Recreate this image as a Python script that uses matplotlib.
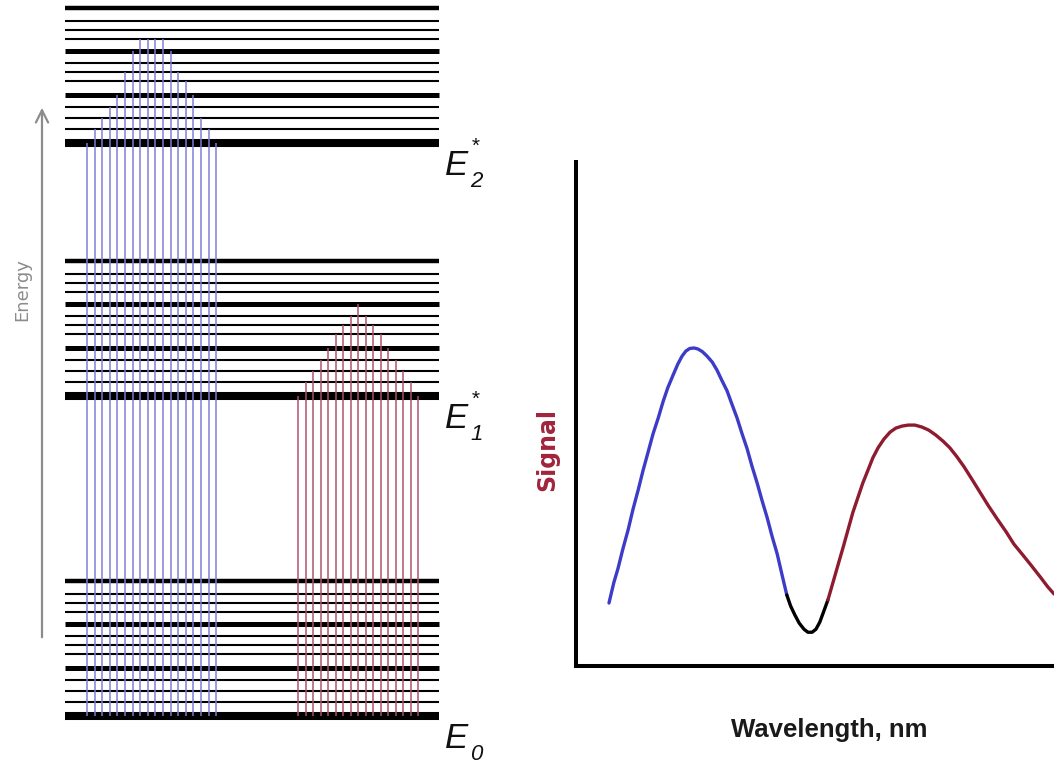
import matplotlib
matplotlib.use("Agg")
import matplotlib.pyplot as plt
from matplotlib import font_manager

# pick a condensed face if there is one
_names = {f.name for f in font_manager.fontManager.ttflist}
narrow = "Liberation Sans Narrow" if "Liberation Sans Narrow" in _names else "Liberation Sans"

# --- energy diagram data (arbitrary energy units) ---
band_subs = ["0", "1", "2"]
band_stars = ["", "*", "*"]
band_energy = [0, 320, 573]
vib_offsets = [0, 14, 25, 36, 48, 62, 71, 80, 92, 104, 113, 122, 135]

# absorption lines: position along diagram and vibrational level reached
blue_x = [87, 95, 102, 110, 117, 125, 133, 140, 148, 155, 163, 171, 178, 186, 193, 201, 209, 216]
blue_level = [0, 1, 2, 3, 4, 6, 8, 9, 9, 9, 9, 8, 6, 5, 4, 2, 1, 0]
red_x = [298, 306, 313, 321, 328, 336, 343, 351, 358, 366, 373, 381, 388, 396, 403, 411, 418]
red_level = [0, 1, 2, 3, 4, 5, 6, 7, 8, 7, 6, 5, 4, 3, 2, 1, 0]

# --- spectrum data (arbitrary units) ---
wl_blue = [6.9, 7.9, 8.8, 9.8, 10.9, 11.9, 13.0, 14.0, 15.1, 16.1, 17.2, 18.2, 19.2,
           20.3, 21.3, 22.2, 23.0, 23.8, 24.7, 25.5, 26.4, 27.4, 28.5, 29.5, 30.5,
           31.6, 32.6, 33.7, 34.7, 35.8, 36.8, 37.9, 38.9, 40.0, 41.0, 42.1, 43.1, 44.1]
sig_blue = [12.5, 16.5, 19.4, 23.2, 27.0, 31.0, 34.9, 38.7, 42.5, 46.0, 49.2, 52.4, 55.2,
            57.7, 59.9, 61.5, 62.5, 63.0, 63.1, 62.9, 62.4, 61.5, 60.3, 58.7, 56.7,
            54.6, 52.0, 49.2, 46.2, 43.1, 39.7, 36.3, 32.9, 29.4, 25.8, 22.2, 18.1, 14.1]
wl_dip = [44.1, 44.9, 45.8, 46.7, 47.7, 48.5, 49.4, 50.2, 51.0, 51.7, 52.7]
sig_dip = [14.1, 11.9, 10.1, 8.5, 7.3, 6.7, 6.7, 7.3, 8.7, 10.5, 13.1]
wl_red = [52.7, 53.8, 54.8, 55.9, 56.9, 57.9, 59.0, 60.0, 61.1, 62.1, 63.2, 64.4,
          65.7, 66.9, 68.2, 69.5, 70.9, 72.4, 73.8, 75.3, 76.8, 78.2, 79.7, 81.2,
          82.8, 84.5, 86.2, 88.1, 90.0, 91.6, 93.5, 95.2, 97.1, 98.7, 100.0]
sig_red = [13.1, 16.7, 20.0, 23.6, 27.0, 30.4, 33.5, 36.3, 38.9, 41.3, 43.3, 45.0,
           46.4, 47.2, 47.6, 47.8, 47.8, 47.4, 46.8, 45.8, 44.6, 43.3, 41.5, 39.5,
           37.1, 34.5, 31.9, 29.2, 26.6, 24.2, 22.0, 20.0, 17.7, 15.7, 14.3]

fig = plt.figure(figsize=(10.54, 7.70), dpi=100)

# left: energy level diagram
ax = fig.add_axes([0, 0, 500 / 1054, 1])
ax.set_xlim(0, 500)
ax.set_ylim(-54, 716)
ax.axis("off")

widths = {0: 5.8, 4: 3.6, 8: 3.6, 12: 3.2}
for base in band_energy:
    for i, off in enumerate(vib_offsets):
        ax.hlines(base + off, 65, 439, color="black", lw=widths.get(i, 1.5), zorder=2)

ax.vlines(blue_x, 0, [band_energy[2] + vib_offsets[l] for l in blue_level],
          color="#7d7dd6", lw=1.2, alpha=0.9, zorder=3)
ax.vlines(red_x, 0, [band_energy[1] + vib_offsets[l] for l in red_level],
          color="#b0506a", lw=1.2, alpha=0.9, zorder=3)

lab_font = dict(family="Liberation Sans", style="italic", color="#111111")
for sub, star, base in zip(band_subs, band_stars, band_energy):
    ax.text(445, base - 32, "E", fontsize=25, ha="left", va="baseline", **lab_font)
    ax.text(470, base - 44, sub, fontsize=16, ha="left", va="baseline", **lab_font)
    if star:
        ax.text(471, base + 6, star, fontsize=15, ha="left", va="top", **lab_font)

ax.annotate("", xy=(42, 611), xytext=(42, 76),
            arrowprops=dict(arrowstyle="->", color="#8c8c8c", lw=1.6,
                            mutation_scale=22))
ax.text(22, 426, "Energy", rotation=90, color="#8c8c8c", fontsize=13,
        ha="center", va="center", family="DejaVu Sans")

# right: spectrum
ax2 = fig.add_axes([576 / 1054, 104 / 770, 478 / 1054, 504 / 770])
ax2.set_xlim(0, 100)
ax2.set_ylim(0, 100)
ax2.plot(wl_blue, sig_blue, color="#3c3cc8", lw=2.4, solid_capstyle="round", solid_joinstyle="round")
ax2.plot(wl_dip, sig_dip, color="black", lw=2.4, solid_capstyle="round", solid_joinstyle="round")
ax2.plot(wl_red, sig_red, color="#8e1b30", lw=2.4, solid_capstyle="round", solid_joinstyle="round")
for s in ["top", "right"]:
    ax2.spines[s].set_visible(False)
for s in ["left", "bottom"]:
    ax2.spines[s].set_linewidth(2.9)
ax2.set_xticks([])
ax2.set_yticks([])
ax2.patch.set_alpha(0)

ax2.text(0.529, -0.141, "Wavelength, nm", transform=ax2.transAxes, ha="center",
         va="baseline", fontsize=18.5, fontweight="bold", family=narrow, color="#1a1a1a")
ax2.text(-0.061, 0.429, "Signal", transform=ax2.transAxes, rotation=90,
         ha="center", va="center", fontsize=17, fontweight="bold",
         family="DejaVu Sans", color="#a0243c")

fig.savefig("out.png", dpi=100)
